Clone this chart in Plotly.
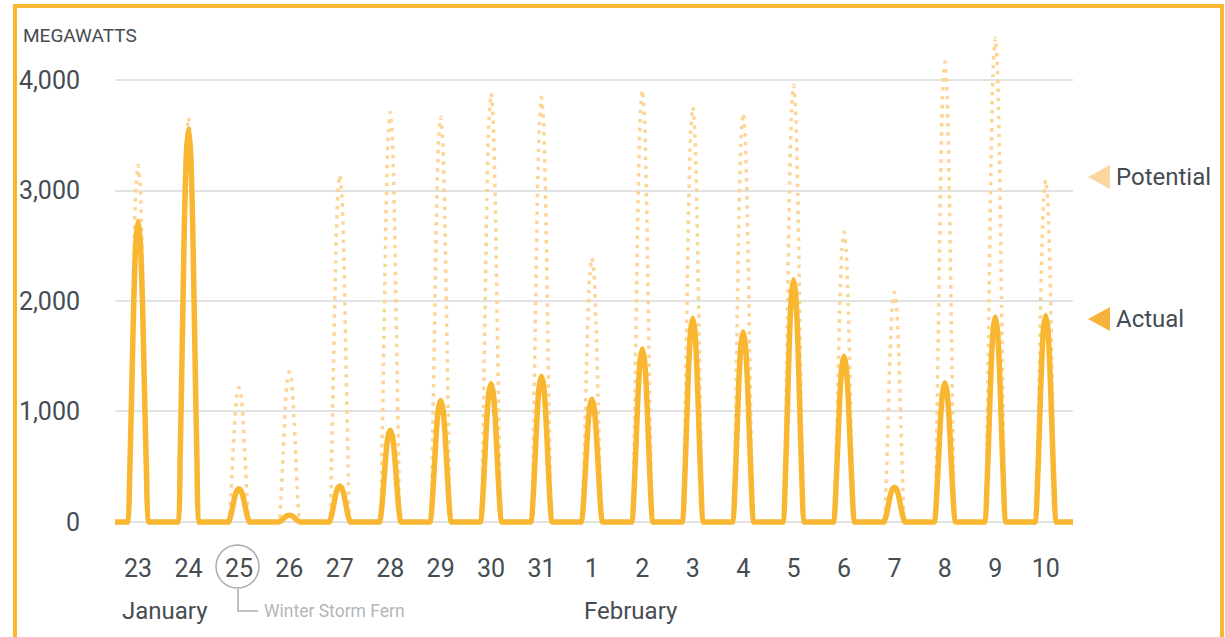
import plotly.graph_objects as go

# ---- data ----
day_labels = ["23", "24", "25", "26", "27", "28", "29", "30", "31", "1",
              "2", "3", "4", "5", "6", "7", "8", "9", "10"]
actual_peak = [2720, 3560, 300, 60, 325, 830, 1100, 1250, 1320, 1110,
               1565, 1845, 1720, 2190, 1500, 315, 1260, 1855, 1870]
potential_peak = [3230, 3660, 1220, 1360, 3140, 3710, 3665, 3880, 3845, 2390,
                  3910, 3755, 3700, 3955, 2625, 2080, 4165, 4380, 3095]
# share of the daily peak for each hour of the day
hour_profile = [0, 0, 0, 0, 0, 0, 0, 0.16, 0.45, 0.75, 0.94, 1.0,
                0.94, 0.75, 0.45, 0.16, 0, 0, 0, 0, 0, 0, 0, 0]
peak_hour = 11
y_ticks = [0, 1000, 2000, 3000, 4000]
y_tick_text = ["0", "1,000", "2,000", "3,000", "4,000"]

# ---- build hourly series ----
x, act, pot = [], [], []
for d in range(len(day_labels)):
    for h in range(24):
        x.append(d + h / 24)
        act.append(actual_peak[d] * hour_profile[h])
        pot.append(potential_peak[d] * hour_profile[h])
x.append(len(day_labels))
act.append(0)
pot.append(0)

ORANGE = "#F8B631"
LIGHT = "#FBD594"
TXT = "#454C52"
FONT = "Roboto, Liberation Sans, sans-serif"

fig = go.Figure()
fig.add_trace(go.Scatter(x=x, y=pot, mode="lines",
                         line=dict(color=LIGHT, width=3.5, dash="3.5px,5.5px",
                                   shape="spline", smoothing=0.6),
                         hoverinfo="skip", showlegend=False))
fig.add_trace(go.Scatter(x=x, y=act, mode="lines",
                         line=dict(color=ORANGE, width=5.5,
                                   shape="spline", smoothing=0.6),
                         hoverinfo="skip", showlegend=False))

# plot-area geometry in pixels
L, R, T, B = 115, 1073, 36, 544
W, H = R - L, B - T


def px(v):
    return (v - L) / W


def py(v):
    return (B - v) / H


shapes = []
annotations = []

# border
shapes.append(dict(type="rect", xref="paper", yref="paper",
                   x0=px(15), x1=px(1222), y0=py(6), y1=py(700),
                   line=dict(color="#FBB632", width=4), layer="above"))


def tri(cx, cy, color):
    p = (f"M {px(cx + 11)},{py(cy - 12)} L {px(cx + 11)},{py(cy + 12)} "
         f"L {px(cx - 11)},{py(cy)} Z")
    return dict(type="path", xref="paper", yref="paper", path=p,
                fillcolor=color, line=dict(width=0))


def label(text, x0, y0, size, color=TXT):
    return dict(text=text, xref="paper", yref="paper", x=px(x0), y=py(y0),
                xanchor="left", yanchor="middle", showarrow=False,
                borderpad=0, font=dict(family=FONT, size=size, color=color))


shapes.append(tri(1099, 177, "#FAD79E"))
shapes.append(tri(1099, 319, "#F6B23A"))
annotations.append(label("Potential", 1115, 177, 24))
annotations.append(label("Actual", 1115, 319, 24))
annotations.append(label("MEGAWATTS", 22, 35, 19))
annotations.append(label("January", 121, 611, 24))
annotations.append(label("February", 583, 611, 24))

# storm marker
GREY = "#A9ACAF"
shapes.append(dict(type="circle", xref="paper", yref="paper",
                   x0=px(216), x1=px(259), y0=py(588), y1=py(545),
                   line=dict(color=GREY, width=1.5)))
shapes.append(dict(type="path", xref="paper", yref="paper",
                   path=f"M {px(238)},{py(589)} L {px(238)},{py(611)} L {px(258)},{py(611)}",
                   line=dict(color=GREY, width=1.5)))
annotations.append(label("Winter Storm Fern", 263, 611, 17.5, "#B3B6B9"))

tick_pos = [d + peak_hour / 24 for d in range(len(day_labels))]

fig.update_layout(
    template="none",
    width=1225, height=637,
    margin=dict(l=L, r=1225 - R, t=T, b=637 - B, autoexpand=False),
    paper_bgcolor="white", plot_bgcolor="white",
    shapes=shapes, annotations=annotations,
    xaxis=dict(range=[0, len(day_labels)], tickvals=tick_pos, ticktext=day_labels,
               showgrid=False, zeroline=False, showline=False, automargin=False,
               ticks="outside", ticklen=2, tickcolor="rgba(0,0,0,0)",
               tickfont=dict(family=FONT, size=25, color=TXT), fixedrange=True),
    yaxis=dict(range=[-200, 4400], tickvals=y_ticks, ticktext=y_tick_text,
               showgrid=True, gridcolor="#E2E2E2", gridwidth=1.5,
               zeroline=False, showline=False, automargin=False,
               ticks="outside", ticklen=29, tickcolor="rgba(0,0,0,0)",
               tickfont=dict(family=FONT, size=25, color=TXT), fixedrange=True),
)

fig.write_html("out.html", config={"displayModeBar": False},
               post_script="document.body.style.margin='0';")
